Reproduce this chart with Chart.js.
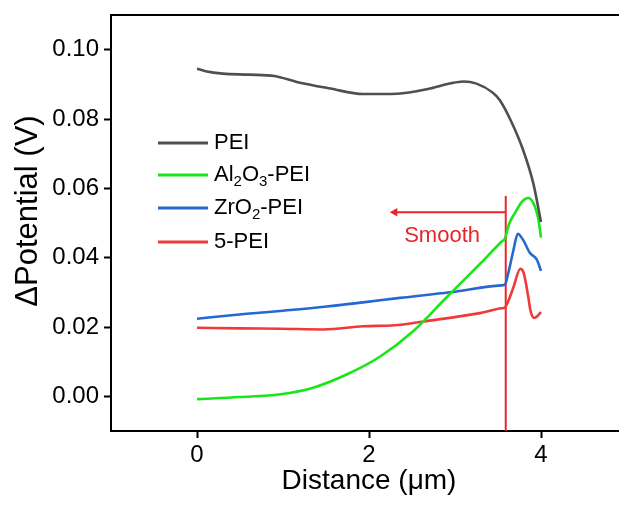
<!DOCTYPE html>
<html>
<head>
<meta charset="utf-8">
<script src="https://cdn.jsdelivr.net/npm/chart.js@4"></script>
<style>
html,body{margin:0;padding:0;background:#fff;overflow:hidden;width:619px;height:506px;}
#wrap{width:619px;height:506px;overflow:hidden;}
</style>
</head>
<body>
<div id="wrap"><canvas id="c" width="650" height="506"></canvas></div>
<script>
// ---- data ----
const peiX = [0, 0.1, 0.3, 0.6, 0.9, 1.16, 1.55, 1.93, 2.33, 2.71, 2.95, 3.1, 3.25, 3.44, 3.52, 3.65, 3.79, 3.91, 4.0];
const peiY = [0.0945, 0.0938, 0.0931, 0.0928, 0.0924, 0.0907, 0.0888, 0.0872, 0.0873, 0.0888, 0.0903, 0.0908, 0.0902, 0.0876, 0.0855, 0.0795, 0.0712, 0.0615, 0.0503];

const alX = [0, 0.5, 0.97, 1.35, 1.74, 2.13, 2.51, 2.9, 3.29, 3.54, 3.58, 3.63, 3.7, 3.78, 3.85, 3.91, 3.97, 4.0];
const alY = [-0.0008, -0.0002, 0.0006, 0.0025, 0.0063, 0.0115, 0.0187, 0.0285, 0.0382, 0.0446, 0.0455, 0.0498, 0.053, 0.0562, 0.0572, 0.0558, 0.051, 0.0458];

const zrX = [0, 0.58, 1.0, 1.51, 1.93, 2.36, 2.94, 3.54, 3.58, 3.62, 3.68, 3.73, 3.79, 3.87, 3.95, 4.0];
const zrY = [0.0224, 0.0238, 0.0247, 0.0259, 0.0271, 0.0284, 0.0300, 0.0320, 0.0322, 0.0356, 0.0422, 0.0469, 0.0452, 0.0414, 0.0395, 0.0362];

const p5X = [0, 0.5, 0.97, 1.47, 1.93, 2.3, 2.63, 3.29, 3.54, 3.58, 3.62, 3.68, 3.76, 3.8, 3.85, 3.88, 3.92, 3.96, 4.0];
const p5Y = [0.0198, 0.0196, 0.0195, 0.0193, 0.0202, 0.0205, 0.0216, 0.0240, 0.0254, 0.0256, 0.0275, 0.0315, 0.0368, 0.0355, 0.0290, 0.0245, 0.0226, 0.0232, 0.0243];

const seriesNames = ['PEI', 'Al2O3-PEI', 'ZrO2-PEI', '5-PEI'];
const xTickValues = [0, 2, 4];
const yTickValues = [0, 0.02, 0.04, 0.06, 0.08, 0.10];
const xMin = -1, xMax = 5;
const yMin = -0.01, yMax = 0.11;

// "Smooth" marker (data units)
const smoothLineX = [3.59, 3.59];
const smoothLineY = [-0.01, 0.0578];
const smoothArrowX = [3.59, 2.30];
const smoothArrowY = [0.0531, 0.0531];
const smoothLabel = 'Smooth';
const smoothLabelPos = [2.85, 0.0463];

// ---- styles ----
const FONT = 'Arial, "Liberation Sans", Helvetica, sans-serif';
const colors = ['#4f4f4f', '#19e619', '#2369d0', '#f03a3a'];
const RED = '#e8262a';

function pts(xs, ys){ return xs.map((x,i)=>({x:x, y:ys[i]})); }

const lineDs = (label, xs, ys, color) => ({
  label, data: pts(xs, ys), borderColor: color, backgroundColor: color,
  borderWidth: 2.6, pointRadius: 0, cubicInterpolationMode: 'monotone', fill: false, showLine: true
});

const datasets = [
  lineDs(seriesNames[0], peiX, peiY, colors[0]),
  lineDs(seriesNames[1], alX, alY, colors[1]),
  lineDs(seriesNames[2], zrX, zrY, colors[2]),
  lineDs(seriesNames[3], p5X, p5Y, colors[3]),
  { label: '_vline', data: pts(smoothLineX, smoothLineY), borderColor: RED, borderWidth: 2,
    pointRadius: 0, tension: 0, showLine: true, fill: false },
  { label: '_arrow', data: pts(smoothArrowX, smoothArrowY), borderColor: RED, backgroundColor: RED,
    borderWidth: 2, tension: 0, showLine: true, fill: false,
    pointStyle: 'triangle', pointRotation: 270, pointRadius: [0, 5], pointBorderWidth: 0 }
];

const zeroPad = s => { s.paddingTop = 0; s.paddingBottom = 0; s.paddingLeft = 0; s.paddingRight = 0; };

// legend with subscripts + top frame + axis titles + annotation text
const deco = {
  id: 'deco',
  afterDraw(chart){
    const ctx = chart.ctx, ca = chart.chartArea;
    ctx.save();
    ctx.strokeStyle = '#000'; ctx.lineWidth = 2;
    ctx.beginPath();
    ctx.moveTo(ca.left - 1, ca.top); ctx.lineTo(ca.right, ca.top);
    ctx.stroke();

    const rows = [
      [{t:'PEI'}],
      [{t:'Al'},{t:'2',sub:true},{t:'O'},{t:'3',sub:true},{t:'-PEI'}],
      [{t:'ZrO'},{t:'2',sub:true},{t:'-PEI'}],
      [{t:'5-PEI'}]
    ];
    const ys = [143, 175, 208, 242];
    rows.forEach((parts, i)=>{
      ctx.strokeStyle = colors[i]; ctx.lineWidth = 3;
      ctx.beginPath(); ctx.moveTo(158, ys[i]); ctx.lineTo(208, ys[i]); ctx.stroke();
      let x = 214;
      ctx.fillStyle = '#000'; ctx.textBaseline = 'middle'; ctx.textAlign = 'left';
      parts.forEach(p=>{
        if (p.sub){ ctx.font = '15px ' + FONT; ctx.fillText(p.t, x, ys[i] + 7); }
        else { ctx.font = '22px ' + FONT; ctx.fillText(p.t, x, ys[i]); }
        x += ctx.measureText(p.t).width;
      });
    });

    const sx = chart.scales.x, sy = chart.scales.y;
    ctx.fillStyle = RED; ctx.font = '22px ' + FONT; ctx.textAlign = 'center'; ctx.textBaseline = 'middle';
    ctx.fillText(smoothLabel, sx.getPixelForValue(smoothLabelPos[0]), sy.getPixelForValue(smoothLabelPos[1]));

    ctx.fillStyle = '#000';
    ctx.font = '28px ' + FONT;
    ctx.fillText('Distance (\u03bcm)', sx.getPixelForValue(2), 481);
    ctx.save();
    ctx.translate(28, 211); ctx.rotate(-Math.PI/2);
    ctx.font = '31px ' + FONT;
    ctx.fillText('\u0394Potential (V)', 0, 0);
    ctx.restore();
    ctx.restore();
  }
};

new Chart(document.getElementById('c'), {
  type: 'scatter',
  data: { datasets },
  plugins: [deco],
  options: {
    responsive: false, animation: false, devicePixelRatio: 1,
    layout: { autoPadding: false, padding: { top: 15, right: 23, left: 0, bottom: 0 } },
    plugins: { legend: { display: false }, tooltip: { enabled: false } },
    scales: {
      x: { type: 'linear', min: xMin, max: xMax,
        afterBuildTicks: s => { s.ticks = xTickValues.map(v=>({value:v})); },
        afterFit: s => { s.height = 75; zeroPad(s); },
        grid: { drawOnChartArea: false, tickLength: 7, tickWidth: 2, tickColor: '#000' },
        border: { color: '#000', width: 2 },
        ticks: { color: '#000', font: { size: 24, family: FONT }, padding: 3 } },
      y: { min: yMin, max: yMax,
        afterBuildTicks: s => { s.ticks = yTickValues.map(v=>({value:v})); },
        afterFit: s => { s.width = 111; zeroPad(s); },
        grid: { drawOnChartArea: false, tickLength: 7, tickWidth: 2, tickColor: '#000' },
        border: { color: '#000', width: 2 },
        ticks: { color: '#000', font: { size: 24, family: FONT }, padding: 5, callback: v => v.toFixed(2) } }
    }
  }
});
</script>
</body>
</html>
